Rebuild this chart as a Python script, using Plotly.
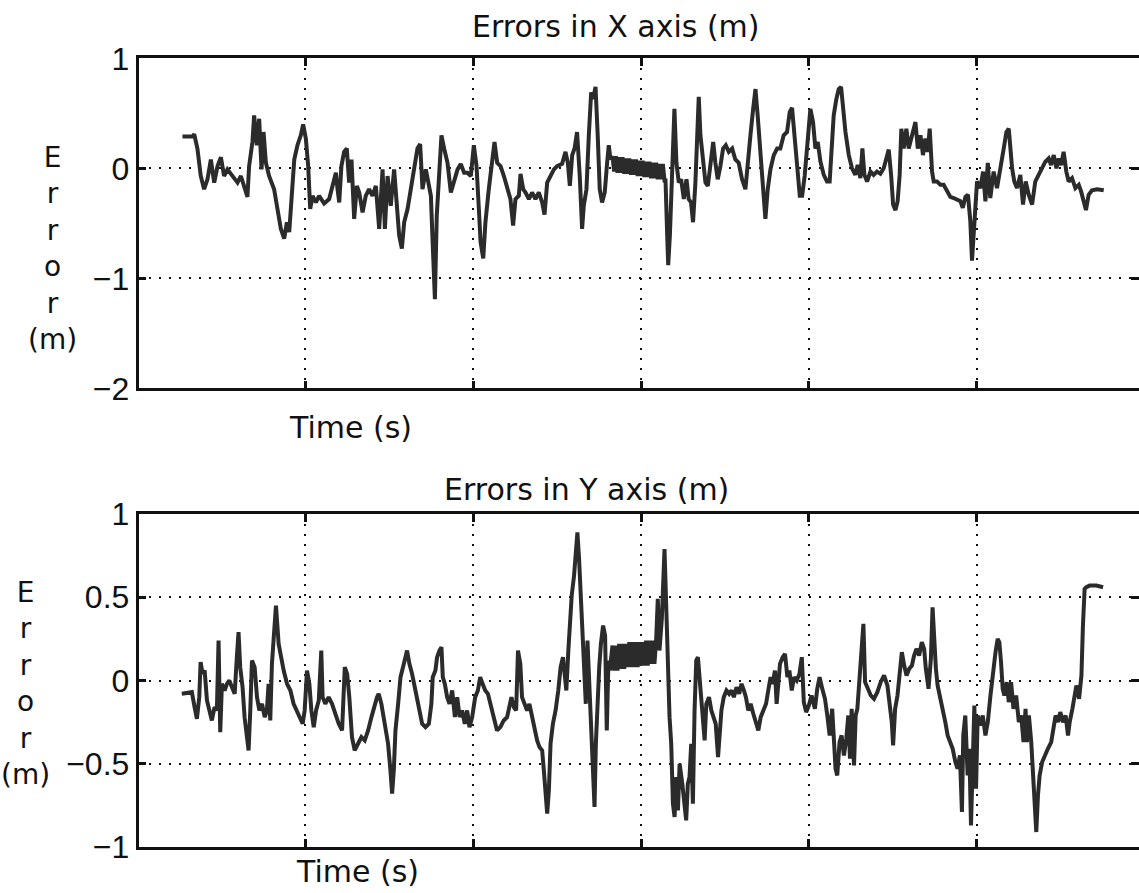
import plotly.graph_objects as go

# ---------------- data ----------------
# Time axis: unlabeled, grid every 10 s
time_grid = [10, 20, 30, 40, 50]

# X-axis error (m)
t_x = [
    2.68, 3.28, 3.38, 3.57, 3.77, 3.97, 4.17, 4.37, 4.57, 4.77,
    4.97, 5.16, 5.36, 5.66, 5.96, 6.16, 6.36, 6.55, 6.65, 6.85,
    6.95, 7.11, 7.25, 7.39, 7.51, 7.65, 7.84, 8.14, 8.34, 8.54,
    8.74, 8.90, 9.04, 9.18, 9.34, 9.53, 9.73, 9.87, 10.03, 10.17,
    10.29, 10.43, 10.63, 10.82, 11.12, 11.42, 11.62, 11.82, 11.92, 12.02,
    12.15, 12.31, 12.47, 12.61, 12.75, 12.91, 13.07, 13.21, 13.41, 13.60,
    13.80, 14.00, 14.20, 14.40, 14.60, 14.74, 14.90, 15.09, 15.29, 15.45,
    15.59, 15.75, 15.89, 16.09, 16.29, 16.48, 16.68, 16.84, 16.98, 17.18,
    17.32, 17.48, 17.60, 17.72, 17.83, 17.97, 18.11, 18.27, 18.47, 18.67,
    18.87, 19.07, 19.26, 19.46, 19.66, 19.86,
    20.04, 20.20, 20.34, 20.44, 20.60, 20.73, 20.93, 21.13, 21.27, 21.43,
    21.63, 21.83, 22.02, 22.22, 22.38, 22.52, 22.72, 22.82, 22.98, 23.12,
    23.32, 23.51, 23.71, 23.91, 24.11, 24.25, 24.41, 24.61, 24.81, 25.00,
    25.30, 25.50, 25.64, 25.76, 25.90, 26.04, 26.19, 26.35, 26.49, 26.59,
    26.75, 26.89, 27.03, 27.15, 27.29, 27.42, 27.54, 27.68, 27.84, 27.98,
    28.08, 28.18,
    28.3, 28.4, 28.5, 28.6, 28.7, 28.8, 28.9, 29.0, 29.1, 29.2,
    29.3, 29.4, 29.5, 29.6, 29.7, 29.8, 29.9, 30.0, 30.1, 30.2,
    30.3, 30.4, 30.5, 30.6, 30.7, 30.8, 30.9, 31.0, 31.1, 31.2,
    31.3, 31.4,
    31.46, 31.56, 31.62, 31.72, 31.81, 31.91, 31.99, 32.11, 32.25, 32.39,
    32.55, 32.71, 32.84, 32.98, 33.10, 33.24, 33.34, 33.44, 33.54, 33.68,
    33.84, 33.98, 34.14, 34.30, 34.43, 34.57, 34.73, 34.89, 35.05, 35.23,
    35.43, 35.62, 35.82, 36.02, 36.22, 36.36, 36.52, 36.68, 36.82, 36.95,
    37.11, 37.27, 37.41, 37.55, 37.71, 37.91, 38.11, 38.30, 38.50, 38.70,
    38.86, 39.00, 39.14, 39.30, 39.46, 39.60, 39.75, 39.89,
    40.09, 40.25, 40.39, 40.53, 40.69, 40.89, 41.08, 41.24, 41.38, 41.48,
    41.64, 41.78, 41.92, 42.04, 42.18, 42.38, 42.57, 42.77, 42.91, 43.07,
    43.19, 43.31, 43.47, 43.67, 43.86, 44.06, 44.26, 44.46, 44.62, 44.76,
    44.90, 45.02, 45.16, 45.29, 45.41, 45.51, 45.65, 45.81, 45.95, 46.15,
    46.35, 46.49, 46.65, 46.80, 46.94, 47.08, 47.20, 47.34, 47.44, 47.64,
    47.84, 48.03, 48.23, 48.43, 48.63, 48.83, 49.03, 49.17, 49.33, 49.48,
    49.62, 49.72, 49.82, 49.92, 50.02, 50.22, 50.38, 50.52, 50.66, 50.81,
    51.01, 51.21, 51.41, 51.61, 51.77, 51.91, 52.01, 52.11, 52.24, 52.40,
    52.60, 52.76, 52.92, 53.10, 53.30, 53.49, 53.69, 53.89, 54.09, 54.29,
    54.43, 54.59, 54.75, 54.89, 55.03, 55.18, 55.34, 55.48, 55.68, 55.88,
    56.08, 56.22, 56.38, 56.51, 56.67, 56.87, 57.17, 57.57,
]
err_x = [
    0.29, 0.29, 0.31, 0.18, -0.07, -0.19, -0.10, 0.08, -0.13, 0.02,
    0.10, -0.07, -0.01, -0.07, -0.13, -0.07, -0.16, -0.26, 0.02, 0.24,
    0.48, 0.21, 0.45, -0.01, 0.33, 0.05, -0.07, -0.19, -0.37, -0.55,
    -0.64, -0.49, -0.58, -0.31, 0.08, 0.21, 0.30, 0.40, 0.27, 0.02,
    -0.37, -0.25, -0.31, -0.25, -0.32, -0.28, -0.16, -0.04, -0.19, -0.31,
    0.02, 0.15, 0.18, -0.13, 0.08, -0.46, -0.16, -0.22, -0.40, -0.25,
    -0.19, -0.25, -0.16, -0.55, -0.01, -0.55, -0.07, -0.34, -0.01, -0.28,
    -0.61, -0.73, -0.49, -0.37, -0.19, -0.01, 0.18, 0.22, -0.19, -0.01,
    -0.13, -0.25, -0.73, -1.19, -0.43, 0.02, 0.30, 0.18, 0.05, -0.22,
    -0.10, -0.01, 0.04, -0.04, -0.04, -0.07,
    0.21, 0.02, -0.37, -0.67, -0.82, -0.49, -0.19, 0.08, 0.24, 0.05,
    0.02, -0.07, -0.19, -0.28, -0.52, -0.28, -0.25, -0.05, -0.19, -0.22,
    -0.28, -0.22, -0.28, -0.22, -0.31, -0.42, -0.13, -0.07, -0.01, 0.02,
    0.04, 0.15, 0.05, -0.16, 0.12, 0.18, 0.33, -0.07, -0.55, -0.34,
    -0.19, 0.30, 0.69, 0.63, 0.74, 0.30, -0.19, -0.31, -0.22, 0.05,
    0.21, 0.08,
    0.11, -0.03, 0.11, -0.04, 0.10, -0.04, 0.10, -0.05, 0.09, -0.05,
    0.09, -0.06, 0.08, -0.06, 0.08, -0.07, 0.07, -0.07, 0.07, -0.08,
    0.06, -0.08, 0.06, -0.09, 0.05, -0.09, 0.05, -0.10, 0.04, -0.10,
    0.04, -0.11,
    -0.11, -0.61, -0.88, -0.61, -0.25, 0.18, 0.54, 0.05, -0.13, -0.10,
    -0.28, -0.10, -0.28, -0.31, -0.49, -0.13, 0.33, 0.65, 0.30, 0.08,
    -0.13, -0.16, 0.08, 0.24, 0.05, -0.10, 0.02, 0.18, 0.21, 0.15,
    0.18, 0.08, 0.05, -0.10, -0.19, 0.08, 0.30, 0.54, 0.72, 0.48,
    0.18, -0.22, -0.46, -0.19, -0.01, 0.12, 0.18, 0.18, 0.30, 0.33,
    0.51, 0.55, 0.30, -0.07, -0.25, -0.25, -0.07, 0.18,
    0.54, 0.42, 0.18, 0.24, 0.06, -0.06, -0.12, -0.12, 0.18, 0.48,
    0.63, 0.72, 0.74, 0.54, 0.33, 0.12, 0.00, -0.06, 0.03, -0.09,
    0.18, -0.06, -0.12, -0.03, -0.06, -0.03, -0.05, 0.00, 0.09, 0.17,
    -0.06, -0.33, -0.38, -0.30, -0.06, 0.36, 0.18, 0.36, 0.18, 0.30,
    0.42, 0.18, 0.30, 0.12, 0.27, 0.15, 0.36, -0.03, -0.12, -0.12,
    -0.15, -0.15, -0.21, -0.26, -0.27, -0.29, -0.30, -0.36, -0.26, -0.24,
    -0.48, -0.84, -0.60, -0.33, -0.12, -0.18, -0.03, -0.30, 0.05, -0.27,
    -0.03, -0.18, 0.03, 0.18, 0.33, 0.36, 0.18, 0.00, -0.12, -0.18,
    -0.06, -0.33, -0.12, -0.24, -0.33, -0.12, -0.06, 0.00, 0.06, 0.09,
    0.03, 0.12, 0.00, 0.09, 0.03, 0.15, -0.03, -0.12, -0.09, -0.18,
    -0.15, -0.21, -0.30, -0.38, -0.24, -0.20, -0.19, -0.20,
]

# Y-axis error (m)
t_y = [
    2.64, 3.24, 3.40, 3.54, 3.68, 3.76, 3.88, 4.00, 4.14, 4.27,
    4.43, 4.59, 4.73, 4.83, 4.93, 5.03, 5.19, 5.33, 5.47, 5.63,
    5.79, 5.92, 6.02, 6.12, 6.26, 6.38, 6.52, 6.62, 6.72, 6.82,
    6.98, 7.12, 7.26, 7.42, 7.58, 7.71, 7.81, 7.91, 8.01, 8.17,
    8.25, 8.41, 8.57, 8.71, 8.91, 9.11, 9.30, 9.50, 9.70, 9.84,
    9.96, 10.10, 10.24, 10.36, 10.50, 10.64, 10.80, 10.95, 11.03, 11.19,
    11.39, 11.59, 11.79, 11.99, 12.19, 12.35, 12.49, 12.62, 12.78, 12.94,
    13.14, 13.34, 13.54, 13.74, 13.94, 14.14, 14.27, 14.37, 14.53, 14.73,
    14.93, 15.07, 15.17, 15.27, 15.37, 15.53, 15.67, 15.87, 16.06, 16.20,
    16.36, 16.56, 16.76, 16.96, 17.16, 17.36, 17.51, 17.59, 17.75, 17.85,
    17.99, 18.11, 18.19, 18.31, 18.45, 18.59, 18.75, 18.91, 19.05, 19.19,
    19.34, 19.50, 19.64, 19.78, 19.94,
    20.12, 20.28, 20.42, 20.56, 20.72, 20.88, 21.02, 21.22, 21.42, 21.62,
    21.82, 22.02, 22.16, 22.28, 22.42, 22.56, 22.67, 22.81, 22.91, 23.07,
    23.21, 23.35, 23.51, 23.67, 23.81, 23.95, 24.11, 24.21, 24.31, 24.41,
    24.51, 24.61, 24.75, 24.91, 25.07, 25.21, 25.35, 25.47, 25.55, 25.67,
    25.77, 25.87, 26.01, 26.11, 26.21, 26.31, 26.41, 26.51, 26.61, 26.71,
    26.81, 26.91, 27.01, 27.15, 27.23, 27.31, 27.41, 27.51, 27.61, 27.74,
    27.86, 27.96, 28.06, 28.14,
    28.3, 28.4, 28.5, 28.6, 28.7, 28.8, 28.9, 29.0, 29.1, 29.2,
    29.3, 29.4, 29.5, 29.6, 29.7, 29.8, 29.9, 30.0, 30.1, 30.2,
    30.3, 30.4, 30.5, 30.6, 30.7, 30.8, 30.9,
    31.00, 31.10, 31.24, 31.40, 31.50, 31.60, 31.70, 31.80, 31.90, 32.00,
    32.10, 32.20, 32.30, 32.46, 32.59, 32.69, 32.79, 32.89, 32.99, 33.09,
    33.19, 33.29, 33.39, 33.49, 33.59, 33.69, 33.79, 33.89, 34.05, 34.19,
    34.33, 34.45, 34.59, 34.69, 34.79, 34.93, 35.09, 35.25, 35.39, 35.53,
    35.69, 35.85, 35.99, 36.13, 36.25, 36.39, 36.53, 36.69, 36.85, 36.99,
    37.13, 37.29, 37.45, 37.58, 37.72, 37.84, 37.98, 38.08, 38.18, 38.28,
    38.44, 38.58, 38.72, 38.84, 38.98, 39.12, 39.28, 39.44, 39.58,
    39.70, 39.84, 40.00, 40.16, 40.36, 40.50, 40.64, 40.80, 40.96, 41.10,
    41.24, 41.39, 41.49, 41.59, 41.69, 41.83, 41.95, 42.09, 42.23, 42.35,
    42.45, 42.55, 42.69, 42.79, 42.89, 42.99, 43.15, 43.25, 43.35, 43.49,
    43.69, 43.88, 44.08, 44.28, 44.48, 44.68, 44.82, 44.94, 45.02, 45.14,
    45.28, 45.42, 45.54, 45.68, 45.82, 45.98, 46.14, 46.27, 46.41, 46.57,
    46.73, 46.87, 46.97, 47.13, 47.27, 47.37, 47.47, 47.57, 47.67, 47.81,
    47.97, 48.13, 48.27, 48.41, 48.57, 48.73, 48.86, 49.00, 49.12, 49.20,
    49.32, 49.46, 49.56, 49.66, 49.76, 49.86, 49.96, 50.06, 50.20, 50.36,
    50.52, 50.66, 50.82, 50.97, 51.12, 51.25, 51.35, 51.45, 51.55, 51.65,
    51.79, 51.91, 52.05, 52.19, 52.35, 52.51, 52.65, 52.79, 52.91, 52.99,
    53.11, 53.25, 53.35, 53.45, 53.55, 53.65, 53.75, 53.90, 54.04, 54.24,
    54.44, 54.58, 54.70, 54.84, 54.98, 55.14, 55.30, 55.44, 55.54, 55.70,
    55.84, 55.94, 56.10, 56.24, 56.33, 56.43, 56.53, 56.73, 56.93, 57.13,
    57.53,
]
err_y = [
    -0.08, -0.07, -0.16, -0.23, -0.10, 0.11, 0.04, 0.06, -0.12, -0.18,
    -0.24, -0.16, -0.18, 0.24, -0.31, -0.02, -0.06, -0.02, 0.00, -0.04,
    -0.08, 0.14, 0.29, 0.08, -0.04, -0.22, -0.32, -0.42, -0.18, 0.12,
    0.08, -0.10, -0.18, -0.14, -0.22, -0.18, -0.02, -0.24, 0.10, 0.31,
    0.45, 0.22, 0.12, 0.06, -0.02, -0.06, -0.14, -0.18, -0.22, -0.26,
    -0.18, 0.06, -0.02, -0.18, -0.28, -0.18, -0.12, 0.18, -0.10, -0.14,
    -0.10, -0.14, -0.20, -0.26, -0.30, 0.08, 0.04, -0.10, -0.34, -0.42,
    -0.38, -0.34, -0.36, -0.30, -0.22, -0.14, -0.10, -0.08, -0.14, -0.26,
    -0.38, -0.54, -0.68, -0.54, -0.30, -0.14, 0.02, 0.10, 0.18, 0.10,
    0.04, -0.06, -0.16, -0.26, -0.28, -0.26, -0.14, 0.02, 0.06, 0.14,
    0.18, 0.20, 0.02, -0.02, -0.10, -0.14, -0.06, -0.22, -0.10, -0.22,
    -0.18, -0.26, -0.18, -0.28, -0.22,
    -0.10, -0.06, 0.02, -0.02, -0.06, -0.08, -0.14, -0.22, -0.30, -0.28,
    -0.24, -0.22, -0.14, -0.10, -0.16, -0.18, 0.18, 0.10, -0.10, -0.14,
    -0.18, -0.14, -0.22, -0.28, -0.36, -0.40, -0.42, -0.54, -0.68, -0.80,
    -0.66, -0.38, -0.26, -0.18, -0.06, 0.08, 0.14, 0.02, -0.06, 0.18,
    0.37, 0.51, 0.63, 0.79, 0.89, 0.73, 0.53, 0.35, 0.12, -0.14,
    0.24, 0.02, -0.18, -0.54, -0.76, -0.38, -0.10, 0.08, 0.22, 0.33,
    0.27, -0.30, 0.12, 0.06,
    0.21, 0.06, 0.21, 0.06, 0.22, 0.07, 0.22, 0.07, 0.22, 0.08,
    0.23, 0.08, 0.23, 0.08, 0.23, 0.08, 0.23, 0.09, 0.23, 0.09,
    0.24, 0.09, 0.24, 0.10, 0.24, 0.10, 0.24,
    0.49, 0.18, 0.37, 0.79, 0.43, 0.10, -0.22, -0.38, -0.74, -0.82,
    -0.58, -0.78, -0.50, -0.62, -0.74, -0.84, -0.62, -0.58, -0.38, -0.74,
    -0.18, 0.12, 0.14, 0.02, -0.10, -0.22, -0.36, -0.14, -0.10, -0.18,
    -0.22, -0.26, -0.46, -0.28, -0.18, -0.10, -0.06, -0.08, -0.06, -0.10,
    -0.04, -0.08, -0.02, -0.06, -0.10, -0.18, -0.14, -0.20, -0.26, -0.30,
    -0.22, -0.18, -0.14, -0.06, 0.02, -0.02, 0.06, -0.14, 0.02, 0.10,
    0.14, 0.16, 0.02, 0.06, -0.06, 0.02, 0.00, 0.04, 0.14,
    -0.13, -0.19, -0.15, -0.09, -0.17, -0.05, 0.02, -0.05, -0.11, -0.21,
    -0.33, -0.17, -0.37, -0.53, -0.57, -0.37, -0.33, -0.45, -0.35, -0.21,
    -0.47, -0.17, -0.51, -0.21, -0.17, -0.01, 0.19, 0.34, -0.01, -0.05,
    -0.09, -0.11, -0.07, -0.01, 0.03, -0.03, -0.13, -0.25, -0.39, -0.17,
    -0.09, 0.07, 0.17, 0.09, 0.03, 0.07, 0.09, 0.15, 0.19, 0.15,
    0.23, 0.19, 0.07, -0.05, 0.13, 0.44, 0.23, 0.07, -0.03, -0.09,
    -0.17, -0.25, -0.33, -0.37, -0.41, -0.49, -0.53, -0.45, -0.79, -0.33,
    -0.21, -0.57, -0.41, -0.87, -0.37, -0.15, -0.65, -0.21, -0.27, -0.21,
    -0.33, -0.25, -0.09, 0.05, 0.17, 0.25, 0.23, 0.11, -0.05, -0.09,
    -0.01, -0.13, -0.01, -0.17, -0.09, -0.25, -0.21, -0.37, -0.17, -0.37,
    -0.21, -0.37, -0.57, -0.81, -0.91, -0.69, -0.57, -0.49, -0.45, -0.41,
    -0.37, -0.29, -0.21, -0.25, -0.19, -0.25, -0.21, -0.33, -0.25, -0.17,
    -0.09, -0.03, -0.11, 0.03, 0.33, 0.55, 0.56, 0.57, 0.57, 0.57,
    0.56,
]

# tick labels
x_err_ticks = [1, 0, -1, -2]
x_err_ticktext = ["1", "0", "\u22121", "\u22122"]
y_err_ticks = [1, 0.5, 0, -0.5, -1]
y_err_ticktext = ["1", "0.5", "0", "\u22120.5", "\u22121"]

titles = ["Errors in X axis (m)", "Errors in Y axis (m)"]
x_label = "Time (s)"
y_label = "E<br>r<br>r<br>o<br>r<br>(m)"

assert len(t_x) == len(err_x), (len(t_x), len(err_x))
assert len(t_y) == len(err_y), (len(t_y), len(err_y))

# ---------------- figure ----------------
W, H = 1139, 893
LINE = "#2b2b2b"
INK = "#111111"
TICK_FONT = dict(family="Liberation Sans, Arial, sans-serif", size=32, color=INK)
TEXT_FONT = dict(family="DejaVu Sans, Verdana, sans-serif", size=30, color=INK)
LABEL_FONT = dict(family="DejaVu Sans, Verdana, sans-serif", size=28, color=INK)

def py(p):  # pixel row -> paper fraction (from bottom)
    return (H - p) / H

fig = go.Figure()
fig.add_trace(go.Scatter(x=t_x, y=err_x, mode="lines", xaxis="x", yaxis="y",
                         line=dict(color=LINE, width=4), showlegend=False,
                         hoverinfo="skip"))
fig.add_trace(go.Scatter(x=t_y, y=err_y, mode="lines", xaxis="x2", yaxis="y2",
                         line=dict(color=LINE, width=4), showlegend=False,
                         hoverinfo="skip"))

x_dom = [138.5 / W, 1.0]
x_range = [0.06, 59.67]
common_x = dict(range=x_range, domain=x_dom, tickvals=time_grid, showticklabels=False,
                ticks="inside", ticklen=8, tickwidth=2.5, tickcolor=INK,
                showline=True, linecolor=INK, linewidth=2.5, mirror="ticks",
                showgrid=True, gridcolor=INK, gridwidth=2.2, griddash="2px,8px",
                zeroline=False, fixedrange=True, automargin=False)
common_y = dict(ticks="inside", ticklen=8, tickwidth=2.5, tickcolor=INK,
                showline=True, linecolor=INK, linewidth=2.5, mirror="ticks",
                showgrid=True, gridcolor=INK, gridwidth=2.2, griddash="2px,8px",
                zeroline=False, tickfont=TICK_FONT, fixedrange=True, automargin=False)

fig.update_layout(
    template="none",
    width=W, height=H, autosize=False,
    margin=dict(l=0, r=0, t=0, b=0, pad=0),
    paper_bgcolor="white", plot_bgcolor="white",
    xaxis=dict(**common_x, anchor="y"),
    yaxis=dict(**common_y, domain=[py(388.3), py(58.3)], range=[-2, 1],
               tickvals=x_err_ticks, ticktext=x_err_ticktext, anchor="x"),
    xaxis2=dict(**common_x, anchor="y2"),
    yaxis2=dict(**common_y, domain=[py(847), py(514)], range=[-1, 1],
                tickvals=y_err_ticks, ticktext=y_err_ticktext, anchor="x2"),
)

ann = []
ann.append(dict(text=titles[0], x=616 / W, y=py(27), xref="paper", yref="paper",
                xanchor="center", yanchor="middle", showarrow=False, font=TEXT_FONT))
ann.append(dict(text=titles[1], x=586 / W, y=py(490), xref="paper", yref="paper",
                xanchor="center", yanchor="middle", showarrow=False, font=TEXT_FONT))
ann.append(dict(text=x_label, x=350 / W, y=py(427), xref="paper", yref="paper",
                xanchor="center", yanchor="middle", showarrow=False, font=TEXT_FONT))
ann.append(dict(text=x_label, x=357 / W, y=py(891), xref="paper", yref="paper",
                xanchor="center", yanchor="bottom", showarrow=False, font=TEXT_FONT))
ann.append(dict(text=y_label, x=52 / W, y=py(248), xref="paper", yref="paper",
                xanchor="center", yanchor="middle", align="center", showarrow=False,
                font=LABEL_FONT))
ann.append(dict(text=y_label, x=25 / W, y=py(683), xref="paper", yref="paper",
                xanchor="center", yanchor="middle", align="center", showarrow=False,
                font=LABEL_FONT))
fig.update_layout(annotations=ann)

fig.write_html("out.html", config={"displayModeBar": False},
               post_script="document.body.style.margin='0';document.body.style.overflow='hidden';")
